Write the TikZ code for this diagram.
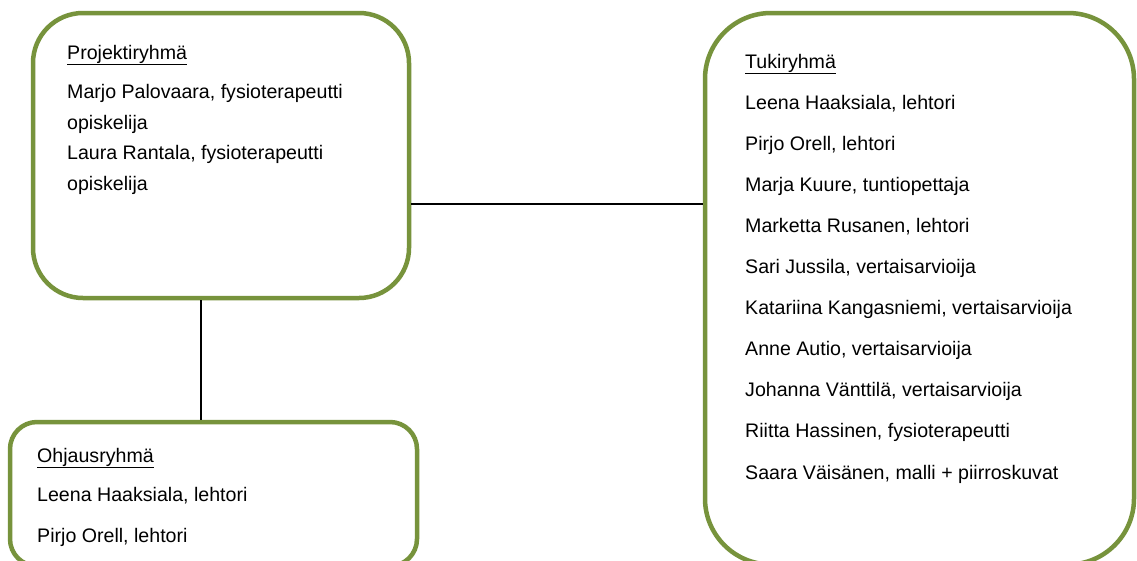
\documentclass[tikz,border=0pt]{standalone}
\usepackage{fontspec}
\setmainfont{Liberation Sans}
\definecolor{olivegreen}{HTML}{77933C}
\begin{document}
\begin{tikzpicture}[x=1pt,y=-1pt,
  groupbox/.style={draw=olivegreen,line width=4.5pt,fill=white,inner sep=0pt,rectangle},
  txt/.style={anchor=base west,inner sep=0pt,font=\fontsize{19.6}{23}\selectfont,text=black},
  conn/.style={draw=black,line width=1.4pt}]
\useasboundingbox (0,0) rectangle (1137,560);
\clip (0,0) rectangle (1137,560);
\fill[white] (0,0) rectangle (1137,560);
% boxes
\node[groupbox,minimum width=376pt,minimum height=285pt,rounded corners=50pt] (proj) at (221,155.5) {};
\node[groupbox,minimum width=407pt,minimum height=144pt,rounded corners=27pt] (ohj) at (213.5,494) {};
\node[groupbox,minimum width=429pt,minimum height=551.5pt,rounded corners=66pt] (tuki) at (919.5,288.75) {};
% connectors
\coordinate (hl) at (0,204);
\coordinate (vl) at (201,0);
\draw[conn] (proj.east |- hl) -- (tuki.west |- hl);
\draw[conn] (proj.south -| vl) -- (ohj.north -| vl);
% Projektiryhma
\node[txt] (p0) at (67,59) {\underline{Projektiryhmä}};
\node[txt] (p1) at (67,98) {Marjo Palovaara, fysioterapeutti};
\node[txt] (p2) at (67,129) {opiskelija};
\node[txt] (p3) at (67,159.5) {Laura Rantala, fysioterapeutti};
\node[txt] (p4) at (67,190) {opiskelija};
% Ohjausryhma
\node[txt] (o0) at (37,462) {\underline{Ohjausryhmä}};
\node[txt] (o1) at (37,501) {Leena Haaksiala, lehtori};
\node[txt] (o2) at (37,542) {Pirjo Orell, lehtori};
% Tukiryhma
\node[txt] (t0) at (745,68) {\underline{Tukiryhmä}};
\node[txt] (t1) at (745,109.1) {Leena Haaksiala, lehtori};
\node[txt] (t2) at (745,150.2) {Pirjo Orell, lehtori};
\node[txt] (t3) at (745,191.3) {Marja Kuure, tuntiopettaja};
\node[txt] (t4) at (745,232.4) {Marketta Rusanen, lehtori};
\node[txt] (t5) at (745,273.5) {Sari Jussila, vertaisarvioija};
\node[txt] (t6) at (745,314.6) {Katariina Kangasniemi, vertaisarvioija};
\node[txt] (t7) at (745,355.7) {Anne Autio, vertaisarvioija};
\node[txt] (t8) at (745,396.8) {Johanna Vänttilä, vertaisarvioija};
\node[txt] (t9) at (745,437.9) {Riitta Hassinen, fysioterapeutti};
\node[txt] (t10) at (745,479) {Saara Väisänen, malli + piirroskuvat};
\end{tikzpicture}
\end{document}
